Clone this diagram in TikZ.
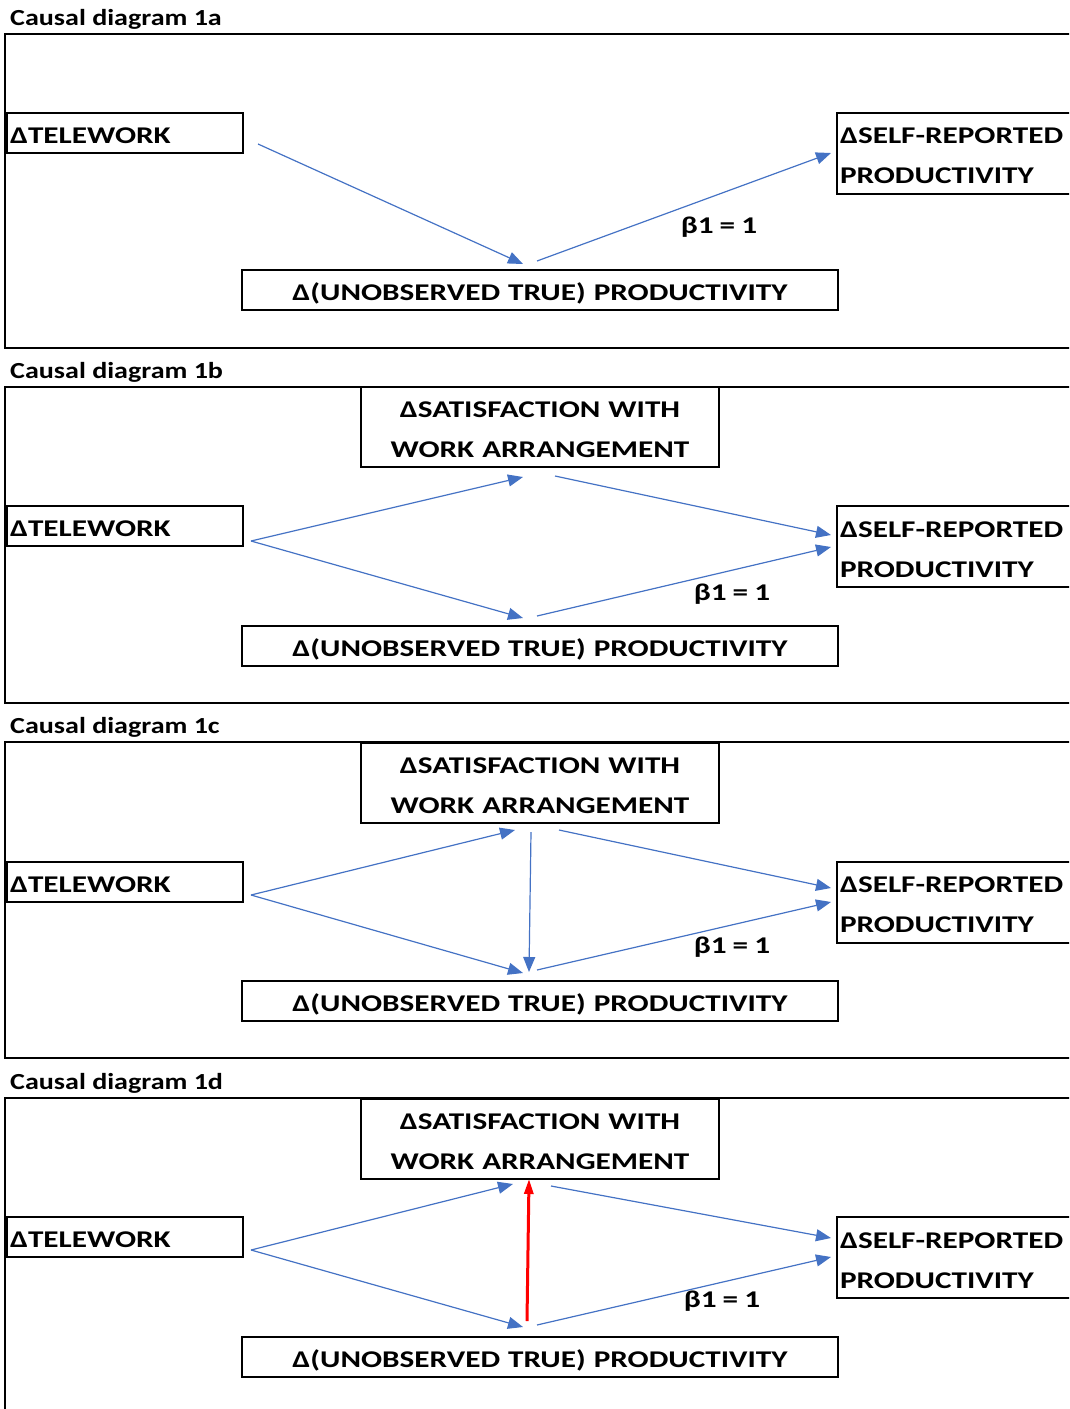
\documentclass[tikz,border=0pt]{standalone}
\usepackage{fontspec}
\setmainfont{Carlito}
\newfontfamily\boxfont[FakeStretch=1.3,WordSpace=0.85]{Carlito}
\newfontfamily\titlefont[FakeStretch=1.22]{Carlito}
\usetikzlibrary{arrows.meta}
\definecolor{arrow-blue}{RGB}{68,114,196}
\colorlet{arrow-red}{red}
\tikzset{
	box/.style={draw=black,line width=2pt,inner sep=3pt,text height=21.5pt,
		font=\boxfont\bfseries\fontsize{24}{40}\selectfont},
	leftbox/.style={box,align=left},
	midbox/.style={box,align=center},
	oneline/.style={text depth=0pt,minimum height=40pt},
	twoline/.style={minimum height=80pt},
	link/.style={arrow-blue,line width=1.2pt,-{Triangle[length=15pt,width=12pt]}},
	backlink/.style={arrow-red,line width=3pt,-{Triangle[length=15pt,width=9pt]}},
	coef/.style={font=\boxfont\bfseries\fontsize{24}{30}\selectfont},
	title/.style={anchor=base west,inner sep=0pt,font=\titlefont\bfseries\fontsize{23}{28}\selectfont},
	frame/.style={black,line width=2pt}
}

\begin{document}
\begin{tikzpicture}[x=1pt,y=-1pt]
	\useasboundingbox (0,0) rectangle (1069,1409);
	\clip (0,0) rectangle (1069,1409);
	% diagram 1a
	\node[title] (ta) at (10,25) {Causal diagram 1a};
	\draw[frame] (1075,34) -- (5,34) -- (5,348) -- (1075,348);
	\node[leftbox,oneline,text width=230pt] (tw-a) at (125,133) {ΔTELEWORK};
	\node[leftbox,twoline,text width=232pt,minimum height=81pt] (self-a) at (956,153) {ΔSELF-REPORTED\\PRODUCTIVITY};
	\node[midbox,oneline,text width=590pt] (true-a) at (540,290) {Δ(UNOBSERVED TRUE) PRODUCTIVITY};
	\draw[link] ([shift={(14,-10)}]tw-a.south east) -- ([shift={(-17,-5)}]true-a.north);
	\draw[link] ([shift={(-3,-8)}]true-a.north) -- ([shift={(-5,0)}]self-a.west);
	\node[coef] (b-a) at (719,227) {β1 = 1};
	% diagram 1b
	\node[title] (tb) at (10,378) {Causal diagram 1b};
	\draw[frame] (1075,387) -- (5,387) -- (5,703) -- (1075,703);
	\node[midbox,twoline,text width=352pt] (sat-b) at (540,427) {ΔSATISFACTION WITH\\WORK ARRANGEMENT};
	\node[leftbox,oneline,text width=230pt] (tw-b) at (125,526) {ΔTELEWORK};
	\node[leftbox,twoline,text width=232pt,minimum height=81pt] (self-b) at (956,546.5) {ΔSELF-REPORTED\\PRODUCTIVITY};
	\node[midbox,oneline,text width=590pt] (true-b) at (540,646) {Δ(UNOBSERVED TRUE) PRODUCTIVITY};
	\draw[link] ([shift={(7,-6)}]tw-b.south east) -- ([shift={(-17,9)}]sat-b.south);
	\draw[link] ([shift={(7,-6)}]tw-b.south east) -- ([shift={(-17,-7)}]true-b.north);
	\draw[link] ([shift={(15,8)}]sat-b.south) -- ([shift={(-5,-11.5)}]self-b.west);
	\draw[link] ([shift={(-3,-9)}]true-b.north) -- ([shift={(-5,0.5)}]self-b.west);
	\node[coef] (b-b) at (732,594) {β1 = 1};
	% diagram 1c
	\node[title] (tc) at (10,733) {Causal diagram 1c};
	\draw[frame] (1075,742) -- (5,742) -- (5,1058) -- (1075,1058);
	\node[midbox,twoline,text width=352pt] (sat-c) at (540,783) {ΔSATISFACTION WITH\\WORK ARRANGEMENT};
	\node[leftbox,oneline,text width=230pt] (tw-c) at (125,882) {ΔTELEWORK};
	\node[leftbox,twoline,text width=232pt,minimum height=81pt] (self-c) at (956,902) {ΔSELF-REPORTED\\PRODUCTIVITY};
	\node[midbox,oneline,text width=590pt] (true-c) at (540,1001) {Δ(UNOBSERVED TRUE) PRODUCTIVITY};
	\draw[link] ([shift={(7,-8)}]tw-c.south east) -- ([shift={(-25,6)}]sat-c.south);
	\draw[link] ([shift={(7,-8)}]tw-c.south east) -- ([shift={(-17,-7)}]true-c.north);
	\draw[link] ([shift={(19,6)}]sat-c.south) -- ([shift={(-5,-14)}]self-c.west);
	\draw[link] ([shift={(-3,-10)}]true-c.north) -- ([shift={(-5,0)}]self-c.west);
	\draw[link] ([shift={(-9,8)}]sat-c.south) -- ([shift={(-11,-8)}]true-c.north);
	\node[coef] (b-c) at (732,947) {β1 = 1};
	% diagram 1d
	\node[title] (td) at (10,1089) {Causal diagram 1d};
	\draw[frame] (1075,1098) -- (5,1098) -- (5,1420);
	\node[midbox,twoline,text width=352pt] (sat-d) at (540,1139) {ΔSATISFACTION WITH\\WORK ARRANGEMENT};
	\node[leftbox,oneline,text width=230pt] (tw-d) at (125,1237) {ΔTELEWORK};
	\node[leftbox,twoline,text width=232pt,minimum height=81pt] (self-d) at (956,1257.5) {ΔSELF-REPORTED\\PRODUCTIVITY};
	\node[midbox,oneline,text width=590pt] (true-d) at (540,1357) {Δ(UNOBSERVED TRUE) PRODUCTIVITY};
	\draw[link] ([shift={(7,-8)}]tw-d.south east) -- ([shift={(-27,4)}]sat-d.south);
	\draw[link] ([shift={(7,-8)}]tw-d.south east) -- ([shift={(-17,-9)}]true-d.north);
	\draw[link] ([shift={(11,6)}]sat-d.south) -- ([shift={(-5,-19.5)}]self-d.west);
	\draw[link] ([shift={(-3,-11)}]true-d.north) -- ([shift={(-5,-0.5)}]self-d.west);
	\draw[backlink] ([shift={(-13,-15)}]true-d.north) -- ([shift={(-11,-1)}]sat-d.south);
	\node[coef] (b-d) at (722,1301) {β1 = 1};
\end{tikzpicture}
\end{document}
